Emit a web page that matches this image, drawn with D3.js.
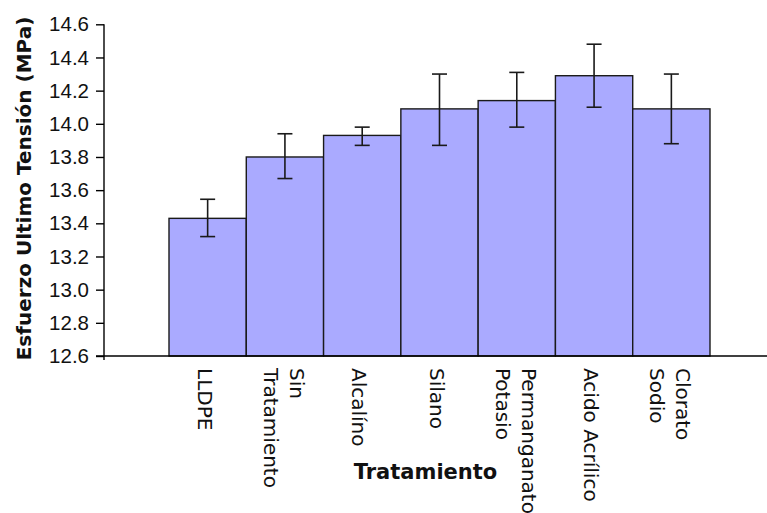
<!DOCTYPE html>
<html>
<head>
<meta charset="utf-8">
<script src="https://cdn.jsdelivr.net/npm/d3@7"></script>
<style>
  html, body { margin: 0; padding: 0; background: #fff; }
  svg { display: block; }
</style>
</head>
<body>
<svg id="chart" width="767" height="513"></svg>
<script>
// ---- Data ----
const categories = [
  ["LLDPE"],
  ["Sin", "Tratamiento"],
  ["Alcalíno"],
  ["Silano"],
  ["Permanganato", "Potasio"],
  ["Acido Acrílico"],
  ["Clorato", "Sodio"]
];
const means   = [13.43, 13.80, 13.93, 14.09, 14.14, 14.29, 14.09];
const errHigh = [13.545, 13.94, 13.98, 14.30, 14.31, 14.48, 14.30];
const errLow  = [13.32, 13.67, 13.87, 13.87, 13.98, 14.10, 13.88];
const yTicks  = [12.6, 12.8, 13.0, 13.2, 13.4, 13.6, 13.8, 14.0, 14.2, 14.4, 14.6];
const yTitle = "Esfuerzo Ultimo Tensión (MPa)";
const xTitle = "Tratamiento";

// ---- Layout ----
const svg = d3.select("#chart");
const axisX = 104, axisY = 356, topY = 24.3;
const barsLeft = 169, barsRight = 710;

const y = d3.scaleLinear().domain([12.6, 14.6]).range([axisY, topY]);
const x = d3.scaleBand().domain(d3.range(categories.length)).range([barsLeft, barsRight]).padding(0);

// Bars
svg.append("g").selectAll("rect").data(means).join("rect")
  .attr("x", (d, i) => x(i))
  .attr("y", d => y(d))
  .attr("width", x.bandwidth())
  .attr("height", d => axisY - y(d))
  .attr("fill", "#aaaaff")
  .attr("stroke", "#1a1a1a")
  .attr("stroke-width", 1.4);

// Error bars
const eg = svg.append("g").attr("stroke", "#1a1a1a").attr("stroke-width", 1.6);
means.forEach((m, i) => {
  const cx = x(i) + x.bandwidth() / 2;
  eg.append("line").attr("x1", cx).attr("x2", cx).attr("y1", y(errHigh[i])).attr("y2", y(errLow[i]));
  eg.append("line").attr("x1", cx - 7.5).attr("x2", cx + 7.5).attr("y1", y(errHigh[i])).attr("y2", y(errHigh[i]));
  eg.append("line").attr("x1", cx - 7.5).attr("x2", cx + 7.5).attr("y1", y(errLow[i])).attr("y2", y(errLow[i]));
});

// Y axis
const yAxis = d3.axisLeft(y).tickValues(yTicks).tickFormat(d3.format(".1f")).tickSize(8).tickPadding(7);
const ya = svg.append("g").attr("transform", `translate(${axisX},0)`).call(yAxis);
ya.select(".domain").remove();
ya.selectAll(".tick line").attr("stroke", "#000").attr("stroke-width", 1.4);
ya.selectAll(".tick text")
  .attr("font-family", "Liberation Sans, Arial, sans-serif")
  .attr("font-size", 20.5)
  .attr("fill", "#111");
svg.append("line").attr("x1", axisX).attr("x2", axisX).attr("y1", topY).attr("y2", axisY + 4)
  .attr("stroke", "#000").attr("stroke-width", 1.4);

// X axis line
svg.append("line").attr("x1", axisX - 8).attr("x2", 767).attr("y1", axisY).attr("y2", axisY)
  .attr("stroke", "#000").attr("stroke-width", 1.4);

// Category labels (rotated 90° clockwise)
const cg = svg.append("g").attr("font-family", "DejaVu Sans, Verdana, sans-serif")
  .attr("font-size", 20).attr("fill", "#111");
categories.forEach((lines, i) => {
  const cx = x(i) + x.bandwidth() / 2;
  const offs = lines.length === 1 ? [-10] : [5, -21];
  lines.forEach((t, k) => {
    cg.append("text")
      .attr("transform", `translate(${cx + offs[k]},368) rotate(90)`)
      .attr("text-anchor", "start")
      .text(t);
  });
});

// Axis titles
svg.append("text")
  .attr("transform", "translate(31,188.5) rotate(-90)")
  .attr("text-anchor", "middle")
  .attr("font-family", "DejaVu Sans, Verdana, sans-serif")
  .attr("font-weight", "bold")
  .attr("font-size", 20)
  .attr("fill", "#111")
  .text(yTitle);

svg.append("text")
  .attr("x", 425.5).attr("y", 479)
  .attr("text-anchor", "middle")
  .attr("font-family", "DejaVu Sans, Verdana, sans-serif")
  .attr("font-weight", "bold")
  .attr("font-size", 21)
  .attr("fill", "#111")
  .text(xTitle);
</script>
</body>
</html>
